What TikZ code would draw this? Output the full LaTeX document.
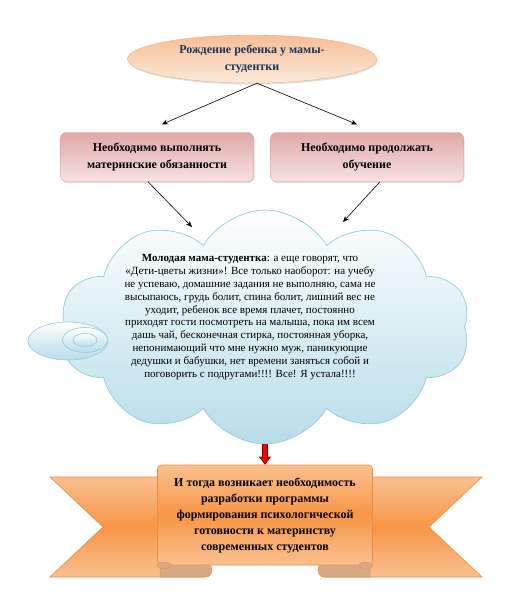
\documentclass[tikz,border=0pt]{standalone}
\usepackage{fontspec}
\setmainfont{Liberation Serif}
\newfontfamily\rufont{Liberation Serif}
\usepackage{tikz}
\usetikzlibrary{shapes.geometric, shapes.symbols, arrows.meta, positioning, calc, shadows}

\definecolor{navytext}{RGB}{23,54,93}
\definecolor{peachtop}{RGB}{247,190,150}
\definecolor{peachbot}{RGB}{253,233,217}
\definecolor{peachline}{RGB}{244,177,131}
\definecolor{pinktop}{RGB}{224,168,168}
\definecolor{pinkbot}{RGB}{247,226,226}
\definecolor{pinkline}{RGB}{217,150,148}
\definecolor{skybot}{RGB}{183,221,232}
\definecolor{skyline}{RGB}{146,205,220}
\definecolor{bannerlight}{RGB}{250,192,144}
\definecolor{bannermid}{RGB}{247,150,70}
\definecolor{bannerline}{RGB}{238,140,62}
\definecolor{foldcol}{RGB}{214,170,135}

\begin{document}
\begin{tikzpicture}[x=1pt, y=-1pt,
  oval/.style={ellipse, draw=peachline, top color=peachtop, bottom color=peachbot, minimum width=249pt, minimum height=48pt, inner sep=0pt, align=center, text=navytext, font=\rufont\fontsize{12}{17}\selectfont\bfseries, drop shadow={opacity=0.25, shadow xshift=1pt, shadow yshift=-1.5pt}},
  box/.style={draw=pinkline, rounded corners=6pt, top color=pinktop, bottom color=pinkbot, minimum width=193pt, minimum height=49pt, align=center, font=\rufont\fontsize{12}{17}\selectfont\bfseries, drop shadow={opacity=0.25, shadow xshift=1pt, shadow yshift=-1.5pt}},
  thought/.style={cloud, cloud puffs=10, cloud puff arc=120, draw=skyline, line width=0.7pt, top color=white, bottom color=skybot, minimum width=410pt, minimum height=234pt},
  bubble/.style={ellipse, draw=skyline, line width=0.6pt, top color=white, bottom color=skybot, inner sep=0pt},
  tail/.style={draw=bannerline, line width=0.6pt, top color=bannerlight, bottom color=bannerlight, middle color=bannermid},
  panel/.style={draw=bannerline, line width=0.6pt, rounded corners=4pt, top color=bannerlight, bottom color=bannerlight, middle color=bannermid, minimum width=215pt, minimum height=100pt, align=center, font=\rufont\fontsize{12}{16}\selectfont\bfseries},
  fold/.style={draw=bannerline, line width=0.5pt, fill=foldcol},
  arr/.style={-{Stealth[length=6pt,width=5pt]}, line width=0.6pt},
  redarr/.style={line width=5.5pt, draw=red!45!black, -{Triangle[length=8pt,width=12pt,line width=0.6pt,fill=red]}, postaction={draw=red, line width=4pt, shorten >=8pt, -}}
]
\useasboundingbox (0,0) rectangle (516,600);

\node[oval] (birth) at (252,59) {Рождение ребенка у мамы-\\студентки};
\node[box] (duty) at (157,157) {Необходимо выполнять\\материнские обязанности};
\node[box] (study) at (367,157) {Необходимо продолжать\\обучение};

\node[thought] (cloud) at (265,327) {};
\node[bubble, minimum width=80pt, minimum height=38pt] (bub1) at (68,341) {};
\node[bubble, minimum width=45pt, minimum height=25pt] (bub2) at (85,340) {};
\node[bubble, minimum width=24pt, minimum height=13pt] (bub3) at (85,340) {};
\node[align=center, font=\rufont\fontsize{11}{12.8}\selectfont] (talk) at (250,317) {\textbf{Молодая мама-студентка}: а еще говорят, что\\
«Дети-цветы жизни»! Все только наоборот: на учебу\\
не успеваю, домашние задания не выполняю, сама не\\
высыпаюсь, грудь болит, спина болит, лишний вес не\\
уходит, ребенок все время плачет, постоянно\\
приходят гости посмотреть на малыша, пока им всем\\
дашь чай, бесконечная стирка, постоянная уборка,\\
непонимающий что мне нужно муж, паникующие\\
дедушки и бабушки, нет времени заняться собой и\\
поговорить с подругами!!!! Все! Я устала!!!!};

\shadedraw[tail] (205,477) -- (50,477) -- (103,527) -- (50,577) -- (205,577) -- cycle;
\shadedraw[tail] (325,477) -- (482,477) -- (429,527) -- (482,577) -- (325,577) -- cycle;
\filldraw[fold] (160,563) -- (206,563) arc[start angle=-90, end angle=90, x radius=6, y radius=7] -- (160,577) -- cycle;
\filldraw[fold] (370,563) -- (324,563) arc[start angle=-90, end angle=-270, x radius=6, y radius=7] -- (370,577) -- cycle;
\node[panel] (goal) at (265,515) {И тогда возникает необходимость\\разработки программы\\формирования психологической\\готовности к материнству\\современных студентов};
\filldraw[fold] ($(goal.south west)+(7,0)$) ellipse[x radius=7, y radius=3];
\filldraw[fold] ($(goal.south east)+(-7,0)$) ellipse[x radius=7, y radius=3];

\coordinate (inL) at (192,227);
\coordinate (inR) at (343,222);

\draw[arr] ($(birth.south)+(5,0)$) -- ($(duty.north)+(5,-8)$);
\draw[arr] ($(birth.south)+(5,0)$) -- ($(study.north)+(-10,-8)$);
\draw[arr] ($(duty.south)+(-9,0)$) -- (inL);
\draw[arr] ($(study.south)+(13,0)$) -- (inR);
\draw[redarr] (cloud.south) -- (goal.north);

\end{tikzpicture}
\end{document}
